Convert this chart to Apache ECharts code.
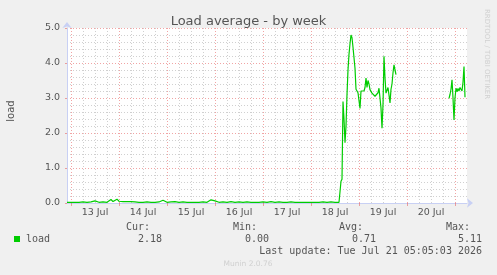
<!DOCTYPE html>
<html>
<head>
<meta charset="utf-8">
<script src="https://cdn.jsdelivr.net/npm/echarts@6/dist/echarts.min.js"></script>
<style>
html,body{margin:0;padding:0;background:#f0f0f0;}
#c{width:497px;height:275px;}
</style>
</head>
<body>
<div id="c"></div>
<script>
// x values are hours since 12 Jul 2026 00:00
const axisMinHour = 22;   // 12 Jul 22:00
const axisMaxHour = 222;  // 21 Jul 06:00
const dayLabels = ['13 Jul','14 Jul','15 Jul','16 Jul','17 Jul','18 Jul','19 Jul','20 Jul'];
const dayLabelHours = [36,60,84,108,132,156,180,204];
const midnightHours = [24,48,72,96,120,144,168,192,216];
const sixHourHours = [30,36,42,54,60,66,78,84,90,102,108,114,126,132,138,150,156,162,174,180,186,198,204,210];
const yTicks = [0,1,2,3,4,5];

// quiet period, hourly samples starting 12 Jul 22:00
const baselineStart = 22;
const baselineValues = [
  0.02,0.02,0.02,0.03,0.02,0.04,0.02,0.02,0.03,0.02,
  0.02,0.02,0.03,0.02,0.06,0.04,0.02,0.02,0.03,0.04,
  0.02,0.03,0.10,0.04,0.08,0.11,0.05,0.03,0.04,0.03,
  0.04,0.03,0.04,0.03,0.03,0.02,0.02,0.03,0.02,0.02,
  0.03,0.02,0.02,0.03,0.02,0.02,0.03,0.05,0.08,0.06,
  0.02,0.02,0.03,0.02,0.04,0.02,0.02,0.02,0.03,0.02,
  0.02,0.03,0.02,0.02,0.02,0.03,0.02,0.02,0.03,0.02,
  0.02,0.06,0.09,0.09,0.06,0.02,0.02,0.02,0.03,0.02,
  0.02,0.02,0.04,0.02,0.02,0.02,0.03,0.02,0.02,0.02,
  0.03,0.02,0.02,0.02,0.02,0.05,0.02,0.02,0.03,0.02,
  0.02,0.02,0.04,0.02,0.02,0.02,0.03,0.02,0.02,0.02,
  0.02,0.02,0.03,0.02,0.02,0.04,0.02,0.02,0.02,0.03,
  0.02,0.02,0.02,0.03,0.02,0.02,0.02,0.02,0.03,0.02,
  0.02,0.02,0.03,0.02,0.02,0.02,0.02
];
// busy period 1, half-hourly samples starting 18 Jul 15:00
const burst1Start = 159;
const burst1Values = [
  0.62,0.68,2.90,2.40,1.72,2.20,3.10,3.80,4.25,4.55,
  4.80,4.72,4.45,4.50,3.85,3.25,3.30,3.15,3.20,2.70,
  3.20,3.15,3.15,3.20,3.30,3.57,3.30,3.50,3.40,3.24,
  3.24,3.14,3.12,3.10,3.05,3.10,3.00,3.15,3.28,3.30,
  2.71,2.14,2.80,4.19,3.57,3.14,3.10,3.30,3.25,2.86,
  3.25,3.40,3.72,3.95,3.80,3.67
];
// busy period 2, half-hourly samples starting 20 Jul 21:00
const burst2Start = 213;
const burst2Values = [
  2.99,3.10,3.25,3.52,3.00,2.37,3.00,3.28,3.18,3.27,
  3.20,3.30,3.25,3.20,3.45,3.90,3.02
];
const seriesName = 'load';
const statLabels = ['Cur:','Min:','Avg:','Max:'];
const statValues = ['2.18','0.00','0.71','5.11'];
const lastUpdate = 'Last update: Tue Jul 21 05:05:03 2026';

const data = [];
baselineValues.forEach((v,i)=>data.push([baselineStart+i, v]));
burst1Values.forEach((v,i)=>data.push([burst1Start+i*0.5, v]));
data.push([burst1Start+burst1Values.length*0.5, null]);
burst2Values.forEach((v,i)=>data.push([burst2Start+i*0.5, v]));

const MONO = '"DejaVu Sans Mono", monospace';
const SANS = '"DejaVu Sans", sans-serif';
const TXT = '#555';
const RED = 'rgba(230,90,90,0.55)';
const GRAY = 'rgba(150,150,150,0.45)';
const AXIS = '#c8d0f4';

const chart = echarts.init(document.getElementById('c'), null, {renderer:'canvas'});
const statX = [162, 269, 376, 482];
const statLabelX = [150, 257, 363, 470];
const graphics = [
  {type:'text', x:11, y:111, rotation:Math.PI/2, style:{text:'load', font:'10px '+SANS, fill:TXT, align:'center', verticalAlign:'middle'}},
  {type:'text', x:487, y:54, rotation:-Math.PI/2, style:{text:'RRDTOOL / TOBI OETIKER', font:'7px '+SANS, fill:'#d0d0d0', align:'center', verticalAlign:'middle'}},
  {type:'rect', shape:{x:14, y:236, width:6, height:6}, style:{fill:'#00cc00'}},
  {type:'text', x:26, y:239.5, style:{text:seriesName, font:'10px '+MONO, fill:TXT, align:'left', verticalAlign:'middle'}},
  {type:'text', x:482, y:251.5, style:{text:lastUpdate, font:'10px '+MONO, fill:TXT, align:'right', verticalAlign:'middle'}},
  {type:'text', x:248, y:264.5, style:{text:'Munin 2.0.76', font:'7.5px '+SANS, fill:'#d0d0d0', align:'center', verticalAlign:'middle'}}
];
statLabels.forEach((s,i)=>{
  graphics.push({type:'text', x:statLabelX[i], y:227.5, style:{text:s, font:'10px '+MONO, fill:TXT, align:'right', verticalAlign:'middle'}});
  graphics.push({type:'text', x:statX[i], y:239.5, style:{text:statValues[i], font:'10px '+MONO, fill:TXT, align:'right', verticalAlign:'middle'}});
});

chart.setOption({
  animation:false,
  backgroundColor:'#f0f0f0',
  title:{text:'Load average - by week', left:'center', top:10,
    textStyle:{fontFamily:SANS, fontSize:13, fontWeight:'normal', color:TXT}},
  grid:{left:67, right:30, top:28, bottom:72, show:true, backgroundColor:'#ffffff', borderWidth:0},
  xAxis:[
    {type:'value', min:axisMinHour, max:axisMaxHour, gridIndex:0,
     axisLine:{show:false}, axisLabel:{show:false},
     axisTick:{show:false, customValues:sixHourHours},
     splitLine:{show:true, lineStyle:{color:GRAY, width:1, type:[1,2]}}},
    {type:'value', min:axisMinHour, max:axisMaxHour, gridIndex:0, position:'bottom',
     axisLine:{show:true, lineStyle:{color:AXIS, width:1}, symbol:['none','arrow'], symbolSize:[7,6], symbolOffset:[0,6]},
     axisTick:{show:true, length:3, inside:false, customValues:midnightHours, lineStyle:{color:RED}},
     axisLabel:{show:true, customValues:dayLabelHours, margin:5, fontFamily:SANS, fontSize:9.5, color:TXT,
       formatter:(v)=>dayLabels[dayLabelHours.indexOf(Math.round(v))] || ''},
     splitLine:{show:true, lineStyle:{color:RED, width:1, type:[1,2]}}}
  ],
  yAxis:{type:'value', min:0, max:5, interval:1,
    axisLine:{show:true, lineStyle:{color:AXIS, width:1}, symbol:['none','arrow'], symbolSize:[7,6], symbolOffset:[0,6]},
    axisTick:{show:true, length:2, lineStyle:{color:RED}},
    axisLabel:{margin:7, fontFamily:SANS, fontSize:9.5, color:TXT, formatter:(v)=>v.toFixed(1)},
    splitLine:{show:true, lineStyle:{color:RED, width:1, type:[1,2]}},
    minorTick:{show:false, splitNumber:5},
    minorSplitLine:{show:true, lineStyle:{color:GRAY, width:1, type:[1,2]}}},
  series:[{
    name:seriesName, type:'line', xAxisIndex:1, data:data, showSymbol:false, connectNulls:false,
    lineStyle:{color:'#00cc00', width:1.2}, itemStyle:{color:'#00cc00'}
  }],
  graphic:graphics
});
</script>
</body>
</html>
